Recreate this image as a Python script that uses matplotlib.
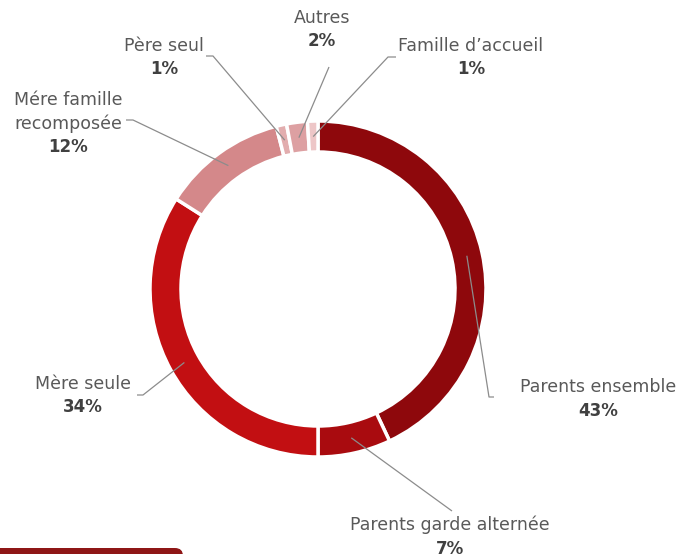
import numpy as np
import matplotlib
matplotlib.use("Agg")
import matplotlib.pyplot as plt
from matplotlib.patches import FancyBboxPatch

# ---------------- DATA ----------------
categories = ["Parents ensemble", "Parents garde alternée", "Mère seule",
              "Mére famille\nrecomposée", "Père seul", "Autres", "Famille d\u2019accueil"]
values = [43, 7, 34, 12, 1, 2, 1]
colors = ["#8E080C", "#A90B0F", "#C20F12", "#D4888A", "#E2ADAE", "#DDA0A2", "#EDC6C7"]

# label layout in pixels: (text x, first line y, elbow x, elbow y, end x)
layout = [
    (598, 387, 489, 397, 494),
    (450, 525, 452, 511, 452),
    (83, 384, 143, 395, 137),
    (68, 100, 133, 120, 126),
    (164, 46, 213, 56, 206),
    (322, 18, 329, 67, 329),
    (471, 46, 388, 57, 396),
]

W, H = 684, 554
CX, CY, R = 318, 289, 168
RING = 31

fig = plt.figure(figsize=(W / 100, H / 100), dpi=100)
ax = fig.add_axes([0, 0, 1, 1])

ax.pie(values, center=(CX, H - CY), radius=R, startangle=90, counterclock=False,
       colors=colors, wedgeprops=dict(width=RING, edgecolor="white", linewidth=2.5))

ax.set_xlim(0, W)
ax.set_ylim(0, H)
ax.set_aspect("equal")
ax.axis("off")

# leader lines and labels
total = sum(values)
start = 0
for name, v, (tx, ty, ex, ey, endx) in zip(categories, values, layout):
    mid = (start + v / 2) / total * 2 * np.pi
    start += v
    r = R - RING / 2
    px = CX + r * np.sin(mid)
    py = CY - r * np.cos(mid)
    ax.plot([px, ex, endx], [H - py, H - ey, H - ey], color="#8C8C8C", lw=0.9,
            solid_capstyle="butt")
    lines = name.split("\n")
    for i, line in enumerate(lines):
        ax.text(tx, H - ty - i * 24, line, ha="center", va="center", fontsize=12.5,
                color="#595959")
    ax.text(tx, H - ty - len(lines) * 23.5, f"{v}%", ha="center", va="center",
            fontsize=12, fontweight="bold", color="#404040")

# bar at the bottom left
ax.add_patch(FancyBboxPatch((-10, -20), 193, 26, boxstyle="round,pad=0,rounding_size=8",
                            facecolor="#8E1616", edgecolor="none", clip_on=True))

fig.savefig("out.png", dpi=100)
